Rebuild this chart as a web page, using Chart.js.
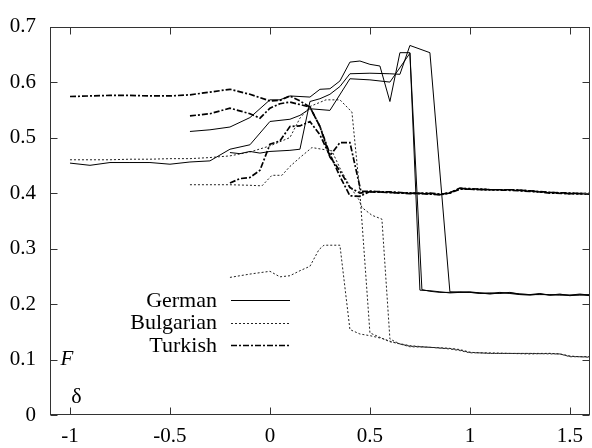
<!DOCTYPE html>
<html><head><meta charset="utf-8">
<script src="https://cdn.jsdelivr.net/npm/chart.js@4.4.0/dist/chart.umd.min.js"></script>
<style>html,body{margin:0;padding:0;background:#fff}</style>
</head><body>
<canvas id="c" width="592" height="448" style="display:block"></canvas>
<script>
// ---- tick labels ----
const xTicks = [-1, -0.5, 0, 0.5, 1, 1.5];
const yTicks = [0, 0.1, 0.2, 0.3, 0.4, 0.5, 0.6, 0.7];
const legendLabels = ['German', 'Bulgarian', 'Turkish'];

// ---- German (solid) ----
const german1X = [-1,-0.9,-0.8,-0.7,-0.6,-0.5,-0.4,-0.3,-0.2,-0.1,0,0.1,0.15,0.2,0.3,0.4,0.5,0.6,0.7,0.76,0.8,0.85,0.9,0.95,1,1.05,1.1,1.15,1.2,1.25,1.3,1.35,1.4,1.45,1.5,1.55,1.6];
const german1Y = [0.454,0.450,0.455,0.455,0.455,0.452,0.456,0.458,0.479,0.487,0.529,0.533,0.540,0.552,0.549,0.606,0.604,0.600,0.652,0.226,0.223,0.221,0.221,0.222,0.221,0.220,0.219,0.221,0.219,0.217,0.216,0.218,0.216,0.218,0.215,0.217,0.215];
const german2X = [-0.4,-0.3,-0.2,-0.1,0,0.05,0.1,0.2,0.25,0.3,0.35,0.4,0.45,0.5,0.55,0.6,0.65,0.7,0.75,0.8,0.85,0.9,0.95,1,1.05,1.1,1.15,1.2,1.25,1.3,1.35,1.4,1.45,1.5,1.55,1.6];
const german2Y = [0.511,0.514,0.519,0.536,0.568,0.568,0.575,0.573,0.587,0.588,0.602,0.636,0.638,0.632,0.629,0.565,0.653,0.653,0.225,0.224,0.222,0.220,0.221,0.222,0.220,0.218,0.220,0.220,0.218,0.217,0.219,0.216,0.217,0.216,0.218,0.216];
const german3X = [-0.2,-0.15,-0.1,-0.05,0,0.1,0.15,0.2,0.25,0.3,0.35,0.4,0.5,0.6,0.65,0.7,0.8,0.9,0.95,1,1.05,1.1,1.15,1.2,1.25,1.3,1.35,1.4,1.45,1.5,1.55,1.6];
const german3Y = [0.473,0.471,0.475,0.472,0.475,0.477,0.479,0.565,0.570,0.578,0.592,0.615,0.616,0.615,0.614,0.666,0.653,0.222,0.221,0.221,0.219,0.220,0.219,0.221,0.218,0.217,0.217,0.217,0.216,0.216,0.216,0.217];

// ---- Bulgarian (dotted) ----
const bulg1X = [-1,-0.9,-0.8,-0.7,-0.6,-0.5,-0.4,-0.3,-0.2,-0.1,0,0.1,0.15,0.2,0.28,0.35,0.41,0.45,0.5,0.55,0.6,0.7,0.8,0.9,0.95,1,1.05,1.1,1.2,1.3,1.4,1.45,1.5,1.55,1.6];
const bulg1Y = [0.460,0.460,0.460,0.461,0.461,0.462,0.462,0.464,0.467,0.474,0.485,0.500,0.535,0.556,0.568,0.568,0.546,0.400,0.148,0.140,0.132,0.125,0.122,0.120,0.118,0.113,0.112,0.112,0.111,0.111,0.111,0.110,0.106,0.105,0.105];
const bulg2X = [-0.4,-0.3,-0.2,-0.1,-0.04,0.01,0.06,0.1,0.15,0.21,0.26,0.31,0.35,0.4,0.445,0.46,0.51,0.56,0.6,0.65,0.7,0.8,0.9,0.95,1,1.05,1.1,1.2,1.3,1.4,1.45,1.5,1.55,1.6];
const bulg2Y = [0.415,0.415,0.415,0.414,0.413,0.432,0.432,0.448,0.464,0.482,0.479,0.476,0.445,0.412,0.388,0.374,0.360,0.353,0.137,0.128,0.124,0.122,0.119,0.116,0.112,0.112,0.111,0.111,0.111,0.110,0.110,0.105,0.105,0.104];
const bulg3X = [-0.2,-0.1,0,0.05,0.1,0.15,0.2,0.245,0.27,0.35,0.4,0.45,0.5,0.56,0.6,0.65,0.7,0.8,0.9,0.95,1,1.05,1.1,1.2,1.3,1.4,1.45,1.5,1.55,1.6];
const bulg3Y = [0.248,0.254,0.259,0.249,0.251,0.260,0.268,0.298,0.306,0.306,0.154,0.146,0.143,0.138,0.133,0.128,0.123,0.122,0.120,0.117,0.113,0.112,0.111,0.111,0.110,0.111,0.110,0.106,0.105,0.105];

// ---- Turkish (dash-dot) ----
const turk1X = [-1,-0.9,-0.8,-0.7,-0.6,-0.5,-0.4,-0.3,-0.2,-0.1,0,0.05,0.1,0.15,0.2,0.25,0.3,0.35,0.4,0.45,0.5,0.6,0.7,0.8,0.85,0.9,0.95,1,1.1,1.2,1.3,1.4,1.5,1.6];
const turk1Y = [0.574,0.575,0.576,0.576,0.575,0.575,0.577,0.582,0.587,0.578,0.566,0.567,0.575,0.566,0.555,0.520,0.470,0.430,0.395,0.394,0.403,0.401,0.400,0.399,0.397,0.401,0.408,0.408,0.406,0.406,0.404,0.400,0.399,0.399];
const turk2X = [-0.4,-0.3,-0.2,-0.1,-0.05,0,0.05,0.1,0.2,0.25,0.3,0.35,0.4,0.45,0.5,0.6,0.7,0.8,0.85,0.9,0.95,1,1.1,1.2,1.3,1.4,1.5,1.6];
const turk2Y = [0.539,0.543,0.553,0.543,0.535,0.553,0.561,0.564,0.555,0.520,0.465,0.440,0.410,0.400,0.402,0.401,0.399,0.400,0.398,0.400,0.407,0.407,0.406,0.405,0.403,0.401,0.400,0.398];
const turk3X = [-0.2,-0.15,-0.1,-0.05,0,0.05,0.1,0.15,0.2,0.25,0.3,0.35,0.4,0.455,0.5,0.6,0.7,0.8,0.85,0.9,0.95,1,1.1,1.2,1.3,1.4,1.5,1.6];
const turk3Y = [0.418,0.426,0.428,0.441,0.488,0.494,0.520,0.521,0.529,0.505,0.467,0.491,0.491,0.403,0.403,0.402,0.400,0.398,0.397,0.400,0.409,0.407,0.406,0.406,0.404,0.401,0.399,0.399];

const FONT = "'Liberation Serif', 'Times New Roman', serif";
const pts = (xs, ys) => xs.map((x, i) => ({x, y: ys[i]}));

const STYLE = {
  German:    {color: '#000', width: 1,   dash: []},
  Bulgarian: {color: '#222', width: 1,   dash: [2, 2]},
  Turkish:   {color: '#000', width: 1.7, dash: [6, 2, 2, 2]}
};
function ds(lang, xs, ys) {
  const s = STYLE[lang];
  return {label: lang, data: pts(xs, ys), borderColor: s.color, borderWidth: s.width,
          borderDash: s.dash, pointRadius: 0, fill: false, tension: 0};
}

const datasets = [
  ds('German', german1X, german1Y), ds('German', german2X, german2Y), ds('German', german3X, german3Y),
  ds('Bulgarian', bulg1X, bulg1Y), ds('Bulgarian', bulg2X, bulg2Y), ds('Bulgarian', bulg3X, bulg3Y),
  ds('Turkish', turk1X, turk1Y), ds('Turkish', turk2X, turk2Y), ds('Turkish', turk3X, turk3Y)
];

const framePlugin = {
  id: 'frame',
  afterDatasetsDraw(chart) {
    const {ctx, chartArea: a, scales: {x, y}} = chart;
    ctx.save();
    ctx.strokeStyle = '#333';
    ctx.lineWidth = 1;
    ctx.setLineDash([]);
    const L = Math.round(a.left) + 0.5, R = Math.round(a.right) - 0.5;
    const T = Math.round(a.top) + 0.5, B = Math.round(a.bottom) - 0.5;
    ctx.strokeRect(L, T, R - L, B - T);
    const tl = 7;
    ctx.beginPath();
    xTicks.forEach(v => {
      const px = Math.round(x.getPixelForValue(v)) + 0.5;
      ctx.moveTo(px, B); ctx.lineTo(px, B - tl);
      ctx.moveTo(px, T); ctx.lineTo(px, T + tl);
    });
    yTicks.forEach(v => {
      const py = Math.round(y.getPixelForValue(v)) + 0.5;
      ctx.moveTo(L, py); ctx.lineTo(L + tl, py);
      ctx.moveTo(R, py); ctx.lineTo(R - tl, py);
    });
    ctx.stroke();

    // legend
    ctx.fillStyle = '#000';
    ctx.font = '22px ' + FONT;
    ctx.textAlign = 'right';
    ctx.textBaseline = 'middle';
    const ly0 = 300, ldy = 22.5;
    legendLabels.forEach((lab, i) => {
      const yy = ly0 + i * ldy;
      ctx.fillText(lab, 217, yy + 1);
      const s = STYLE[lab];
      ctx.beginPath();
      ctx.strokeStyle = s.color;
      ctx.lineWidth = s.width;
      ctx.setLineDash(s.dash);
      ctx.moveTo(231, Math.round(yy) + 0.5);
      ctx.lineTo(290, Math.round(yy) + 0.5);
      ctx.stroke();
    });
    ctx.setLineDash([]);

    // axis titles (placed inside the plot as in the original)
    ctx.textAlign = 'center';
    ctx.font = 'italic 21px ' + FONT;
    ctx.fillText('F', 67, 359);
    ctx.font = '22px ' + FONT;
    ctx.fillText('δ', 76.5, 397);
    ctx.restore();
  }
};

new Chart(document.getElementById('c'), {
  type: 'line',
  data: {datasets},
  options: {
    responsive: false,
    animation: false,
    devicePixelRatio: 1,
    parsing: false,
    layout: {padding: {top: 15, right: 0, left: 0, bottom: 0}},
    plugins: {legend: {display: false}, tooltip: {enabled: false}},
    scales: {
      x: {
        type: 'linear', min: -1.1, max: 1.6,
        afterBuildTicks: s => { s.ticks = xTicks.map(v => ({value: v})); },
        afterFit: s => { s.height = 33; },
        grid: {display: false, drawTicks: false},
        border: {display: false},
        ticks: {color: '#000', font: {family: FONT, size: 21}, padding: 9, maxRotation: 0,
                callback: v => String(v)}
      },
      y: {
        type: 'linear', min: 0, max: 0.7,
        afterBuildTicks: s => { s.ticks = yTicks.map(v => ({value: v})); },
        afterFit: s => { s.width = 50; },
        grid: {display: false, drawTicks: false},
        border: {display: false},
        ticks: {color: '#000', font: {family: FONT, size: 21}, padding: 14,
                callback: v => String(v)}
      }
    }
  },
  plugins: [framePlugin]
});
</script>
</body></html>
